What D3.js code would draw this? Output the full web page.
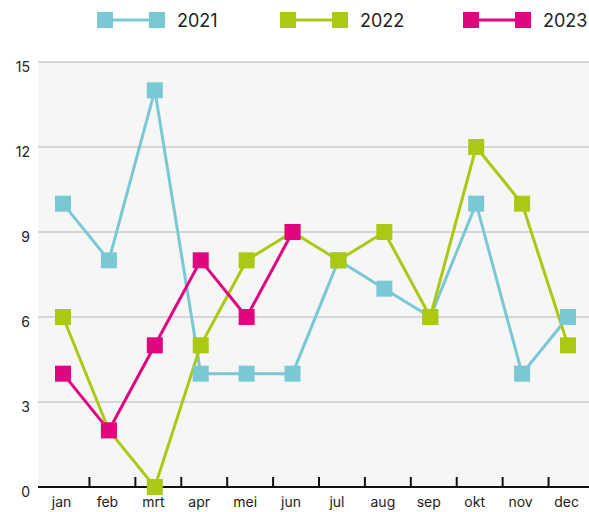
<!DOCTYPE html>
<html>
<head>
<meta charset="utf-8">
<script src="https://cdn.jsdelivr.net/npm/d3@7"></script>
<style>
  body { margin: 0; background: #fff; }
  text { font-family: Inter, "Noto Sans", sans-serif; fill: #222; }
</style>
</head>
<body>
<svg id="chart" width="589" height="512"></svg>
<script>
'use strict'

var months = ['jan','feb','mrt','apr','mei','jun','jul','aug','sep','okt','nov','dec']
var years = ['2021','2022','2023']
var colors = ['#79c9d4','#abc813','#e0067f']
var values2021 = [10, 8, 14, 4, 4, 4, 8, 7, 6, 10, 4, 6]
var values2022 = [6, 2, 0, 5, 8, 9, 8, 9, 6, 12, 10, 5]
var values2023 = [4, 2, 5, 8, 6, 9]
var yTicks = [0, 3, 6, 9, 12, 15]

var series = [values2021, values2022, values2023].map(function(v, i){
  return { name: years[i], color: colors[i], values: v.map(function(d, j){ return { month: months[j], value: d } }) }
})

var svg = d3.select('#chart'),
    plotLeft = 38, plotRight = 589

var x = d3.scalePoint()
    .domain(months)
    .range([63, 568])

var y = d3.scaleLinear()
    .domain([0, 15])
    .range([487, 62])

// achtergrond
svg.append('rect')
  .attr('x', plotLeft)
  .attr('y', y(15))
  .attr('width', plotRight - plotLeft)
  .attr('height', y(0) - y(15))
  .attr('fill', '#f6f6f6')

// rasterlijnen + y labels
svg.append('g')
  .selectAll('line')
  .data(yTicks.filter(function(d){ return d > 0 }))
  .enter().append('line')
    .attr('x1', plotLeft)
    .attr('x2', plotRight)
    .attr('y1', function(d){ return y(d) })
    .attr('y2', function(d){ return y(d) })
    .attr('stroke', '#d6d6d6')
    .attr('stroke-width', 2)

svg.append('g')
  .selectAll('text')
  .data(yTicks)
  .enter().append('text')
    .attr('x', 30)
    .attr('y', function(d){ return y(d) + 10 })
    .attr('text-anchor', 'end')
    .style('font-size', '14px')
    .text(function(d){ return d })

// x as
var xAxis = svg.append('g')
    .attr('transform', 'translate(0,' + y(0) + ')')
    .call(d3.axisBottom(x).tickSize(0).tickPadding(10))
xAxis.select('.domain').remove()
xAxis.selectAll('text')
  .style('font-size', '14px')
  .attr('dx', '-2')
  .attr('font-family', null)

svg.append('line')
  .attr('x1', plotLeft)
  .attr('x2', plotRight)
  .attr('y1', y(0))
  .attr('y2', y(0))
  .attr('stroke', '#111')
  .attr('stroke-width', 2)

// streepjes tussen de maanden (iets naar rechts verschoven, zoals in het origineel)
svg.append('g')
  .selectAll('line')
  .data(months.slice(1))
  .enter().append('line')
    .attr('x1', function(d){ return x(d) - x.step() / 2 + 3.5 })
    .attr('x2', function(d){ return x(d) - x.step() / 2 + 3.5 })
    .attr('y1', y(0))
    .attr('y2', y(0) - 10)
    .attr('stroke', '#111')
    .attr('stroke-width', 2)

var line = d3.line()
    .x(function(d){ return x(d.month) })
    .y(function(d){ return y(d.value) })

// eerst alle lijnen, dan de markers
svg.append('g')
  .selectAll('path')
  .data(series)
  .enter().append('path')
    .attr('d', function(d){ return line(d.values) })
    .attr('fill', 'none')
    .attr('stroke', function(d){ return d.color })
    .attr('stroke-width', 3)

var markerSize = 16
svg.append('g')
  .selectAll('g')
  .data(series)
  .enter().append('g')
    .attr('fill', function(d){ return d.color })
  .selectAll('rect')
  .data(function(d){ return d.values })
  .enter().append('rect')
    .attr('x', function(d){ return x(d.month) - markerSize / 2 })
    .attr('y', function(d){ return y(d.value) - markerSize / 2 })
    .attr('width', markerSize)
    .attr('height', markerSize)

// legenda
var legend = svg.append('g')
  .selectAll('g')
  .data(series)
  .enter().append('g')
    .attr('transform', function(d, i){ return 'translate(' + (97 + i * 183) + ',20)' })

legend.append('line')
  .attr('x1', 8).attr('x2', 60)
  .attr('stroke', function(d){ return d.color })
  .attr('stroke-width', 3)
legend.append('rect')
  .attr('x', 0).attr('y', -8)
  .attr('width', 16).attr('height', 16)
  .attr('fill', function(d){ return d.color })
legend.append('rect')
  .attr('x', 52).attr('y', -8)
  .attr('width', 16).attr('height', 16)
  .attr('fill', function(d){ return d.color })
legend.append('text')
  .attr('x', 80)
  .attr('y', 7)
  .style('font-size', '18px')
  .text(function(d){ return d.name })
</script>
</body>
</html>
